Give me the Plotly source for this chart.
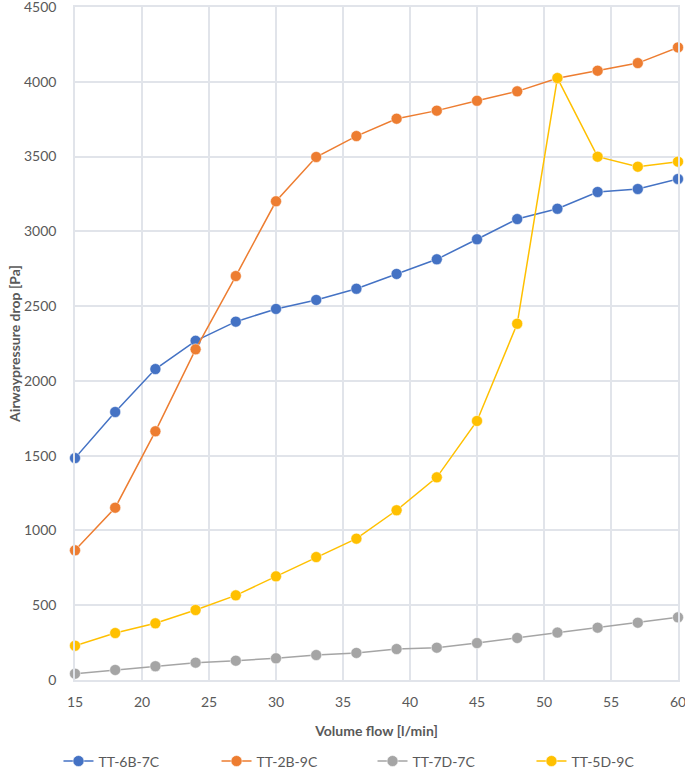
import plotly.graph_objects as go

flow = [15, 18, 21, 24, 27, 30, 33, 36, 39, 42, 45, 48, 51, 54, 57, 60]
tt_6b_7c = [1484, 1792, 2079, 2268, 2396, 2481, 2541, 2616, 2715, 2813, 2947, 3082, 3151, 3263, 3283, 3350]
tt_2b_9c = [867, 1152, 1663, 2211, 2701, 3201, 3497, 3637, 3753, 3807, 3873, 3936, 4023, 4074, 4125, 4230]
tt_7d_7c = [42, 67, 92, 116, 129, 145, 167, 181, 207, 216, 247, 281, 317, 350, 383, 419]
tt_5d_9c = [229, 314, 379, 468, 566, 693, 822, 945, 1135, 1355, 1732, 2382, 4025, 3499, 3432, 3466]

series = [
    ("TT-6B-7C", tt_6b_7c, "#4472C4"),
    ("TT-2B-9C", tt_2b_9c, "#ED7D31"),
    ("TT-7D-7C", tt_7d_7c, "#A5A5A5"),
    ("TT-5D-9C", tt_5d_9c, "#FFC000"),
]

txt = "#595959"
grid = "#E1E4EA"
fnt = "Lato, Open Sans, sans-serif"

legend_ids = ["legend", "legend2", "legend3", "legend4"]
legend_x = [-0.0274, 0.2347, 0.4934, 0.7570]

fig = go.Figure()
for (name, vals, col), lid in zip(series, legend_ids):
    fig.add_trace(go.Scatter(
        x=flow, y=vals, name=name, mode="lines+markers",
        line=dict(color=col, width=1.5),
        marker=dict(color=col, size=11, line=dict(color="white", width=0.5)),
        cliponaxis=False, legend=lid,
    ))

legends = {}
for lid, lx in zip(legend_ids, legend_x):
    legends[lid] = dict(orientation="h", x=lx, xanchor="left", y=-0.121, yanchor="middle",
                        font=dict(family=fnt, size=14, color=txt), itemwidth=30,
                        bgcolor="rgba(0,0,0,0)")

fig.update_layout(
    width=685, height=773,
    margin=dict(l=75, r=7, t=7, b=93, autoexpand=False),
    paper_bgcolor="white", plot_bgcolor="white",
    font=dict(family=fnt, size=14, color=txt),
    showlegend=True,
    **legends,
)
fig.update_xaxes(
    range=[15, 60], tickvals=[15, 20, 25, 30, 35, 40, 45, 50, 55, 60],
    showgrid=True, gridcolor=grid, gridwidth=1.5,
    showline=True, mirror=True, linecolor=grid, linewidth=1.5,
    zeroline=False,
    ticks="outside", ticklen=8, tickcolor="rgba(0,0,0,0)",
    automargin=False, ticklabeloverflow="allow",
    tickfont=dict(family=fnt, size=14, color=txt),
    title=dict(text="<b>Volume flow [l/min]</b>", font=dict(family=fnt, size=14, color=txt), standoff=18),
)
fig.update_yaxes(
    range=[0, 4500], tickvals=list(range(0, 4501, 500)),
    showgrid=True, gridcolor=grid, gridwidth=1.5,
    showline=True, mirror=True, linecolor=grid, linewidth=1.5,
    zeroline=False,
    ticks="outside", ticklen=14, tickcolor="rgba(0,0,0,0)",
    automargin=False, ticklabeloverflow="allow",
    tickfont=dict(family=fnt, size=14, color=txt),
    title=dict(text="<b>Airwaypressure drop [Pa]</b>", font=dict(family=fnt, size=14, color=txt), standoff=0),
)
fig.write_html("out.html", config={"displayModeBar": False},
               post_script="document.body.style.margin='0';document.body.style.overflow='hidden';")
